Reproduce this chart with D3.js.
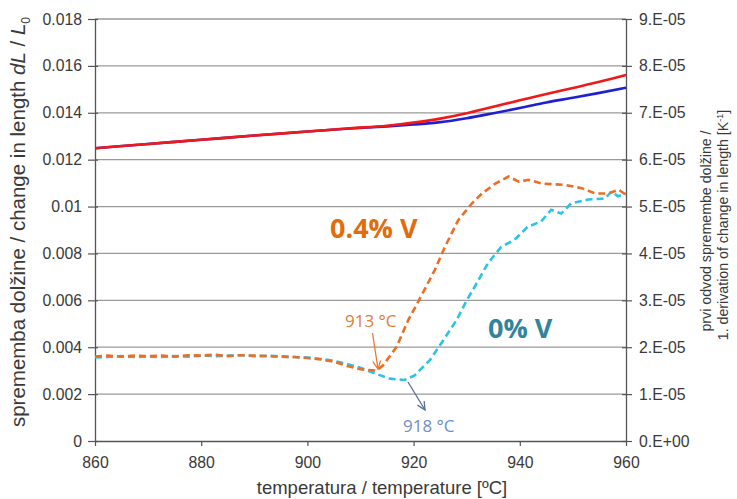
<!DOCTYPE html>
<html>
<head>
<meta charset="utf-8">
<script src="https://cdn.jsdelivr.net/npm/d3@7"></script>
<style>
  html, body { margin: 0; padding: 0; background: #fff; }
  svg { display: block; }
</style>
</head>
<body>
<svg id="chart" width="737" height="499"></svg>
<script>
// ---------- data ----------
const xTicks = [860, 880, 900, 920, 940, 960];
const leftTicks = [0, 0.002, 0.004, 0.006, 0.008, 0.01, 0.012, 0.014, 0.016, 0.018];
const leftTickLabels = ["0", "0.002", "0.004", "0.006", "0.008", "0.01", "0.012", "0.014", "0.016", "0.018"];
const rightTicks = [0, 1e-5, 2e-5, 3e-5, 4e-5, 5e-5, 6e-5, 7e-5, 8e-5, 9e-5];
const rightTickLabels = ["0.E+00", "1.E-05", "2.E-05", "3.E-05", "4.E-05", "5.E-05", "6.E-05", "7.E-05", "8.E-05", "9.E-05"];

// dilatation curves (left axis)
const redT   = [860, 870, 880, 890, 900, 908, 915, 920, 925, 930, 935, 940, 945, 950, 955, 960];
const redV   = [0.01249, 0.01267, 0.01285, 0.01303, 0.0132, 0.01334, 0.01345, 0.01358, 0.01375, 0.01398, 0.01426, 0.01453, 0.0148, 0.01506, 0.01532, 0.01561];
const blueT  = [860, 870, 880, 890, 900, 908, 915, 920, 925, 930, 935, 940, 945, 950, 955, 960];
const blueV  = [0.01249, 0.01267, 0.01285, 0.01303, 0.0132, 0.01333, 0.01342, 0.0135, 0.0136, 0.01377, 0.01398, 0.0142, 0.01444, 0.01464, 0.01485, 0.01507];

// derivative curves (right axis, units of 1e-5 K^-1)
const orangeT = [860, 862.5, 865, 867.5, 870, 872.5, 875, 877.5, 880, 882.5, 885, 887.5, 890, 892.5, 895, 897.5, 900, 902.5, 905, 907.5, 910, 913, 914.3, 916.8, 919, 921, 924, 925.9, 928.4, 931, 932.9, 935.4, 937.9, 939.8, 941.7, 944.2, 948.6, 951.7, 954.2, 956.7, 958.6, 960];
const orangeV = [1.80, 1.82, 1.80, 1.82, 1.81, 1.82, 1.80, 1.83, 1.82, 1.84, 1.81, 1.83, 1.82, 1.81, 1.80, 1.79, 1.77, 1.74, 1.69, 1.60, 1.53, 1.50, 1.62, 2.01, 2.58, 3.00, 3.65, 4.14, 4.71, 5.07, 5.28, 5.49, 5.64, 5.53, 5.57, 5.49, 5.46, 5.39, 5.28, 5.28, 5.36, 5.25];
const cyanT = [860, 862.5, 865, 867.5, 870, 872.5, 875, 877.5, 880, 882.5, 885, 887.5, 890, 892.5, 895, 897.5, 900, 902.5, 905, 907.5, 910, 913, 915.5, 918.3, 920.2, 923.1, 925.6, 928.1, 930, 931.5, 934, 936.5, 939, 941.5, 944, 945.9, 947.8, 949.7, 952.9, 956, 957.3, 958.5, 960];
const cyanV = [1.78, 1.79, 1.81, 1.79, 1.80, 1.79, 1.81, 1.80, 1.82, 1.81, 1.82, 1.83, 1.81, 1.82, 1.80, 1.79, 1.78, 1.75, 1.71, 1.64, 1.56, 1.43, 1.33, 1.30, 1.40, 1.73, 2.15, 2.58, 3.00, 3.29, 3.79, 4.14, 4.29, 4.57, 4.68, 4.93, 4.85, 5.07, 5.15, 5.17, 5.32, 5.22, 5.28];

// annotations
const labels = [
  { text: "0.4% V", x: 330, y: 238, color: "#E26B0A", size: 27, weight: 700 },
  { text: "0% V",   x: 488, y: 338, color: "#31849B", size: 27, weight: 700 },
  { text: "913 °C", x: 345, y: 327, color: "#E37B34", size: 17, weight: 400 },
  { text: "918 °C", x: 403, y: 432, color: "#6E8FCB", size: 17, weight: 400 }
];

// ---------- layout ----------
const svg = d3.select("#chart");
const M = { left: 95, right: 626, top: 19, bottom: 441 };

const x = d3.scaleLinear().domain([860, 960]).range([M.left, M.right]);
const yL = d3.scaleLinear().domain([0, 0.018]).range([M.bottom, M.top]);
const yR = d3.scaleLinear().domain([0, 9e-5]).range([M.bottom, M.top]);

const axisFont = "'Liberation Sans', Arial, sans-serif";
const textColor = "#3a3a3a";

// gridlines
svg.append("g")
  .selectAll("line")
  .data(leftTicks.filter(d => d > 0))
  .join("line")
  .attr("x1", M.left).attr("x2", M.right)
  .attr("y1", d => yL(d)).attr("y2", d => yL(d))
  .attr("stroke", "#9a9a9a").attr("stroke-width", 1.3);

// axes
const leftAxis = d3.axisLeft(yL).tickValues(leftTicks)
  .tickFormat((d, i) => leftTickLabels[i]).tickSizeInner(7).tickSizeOuter(0).tickPadding(6);
const gL = svg.append("g").attr("transform", `translate(${M.left},0)`).call(leftAxis);

const rightAxis = d3.axisRight(yR).tickValues(rightTicks)
  .tickFormat((d, i) => rightTickLabels[i]).tickSizeInner(6).tickSizeOuter(0).tickPadding(7);
const gR = svg.append("g").attr("transform", `translate(${M.right},0)`).call(rightAxis);

const bottomAxis = d3.axisBottom(x).tickValues(xTicks).tickFormat(d3.format("d"))
  .tickSizeInner(5).tickSizeOuter(0).tickPadding(10.5);
const gB = svg.append("g").attr("transform", `translate(0,${M.bottom})`).call(bottomAxis);

[gL, gR, gB].forEach(g => {
  g.select(".domain").attr("stroke", "#555").attr("stroke-width", 1.3);
  g.selectAll(".tick line").attr("stroke", "#555").attr("stroke-width", 1.2);
  g.selectAll(".tick text").attr("fill", textColor)
    .style("font-family", axisFont).style("font-size", "15.8px");
});
// crossing ticks
gL.selectAll(".tick line").attr("x1", 3);
gR.selectAll(".tick line").attr("x1", -4);

// ---------- series ----------
const lineL = d3.line().x(d => x(d[0])).y(d => yL(d[1])).curve(d3.curveMonotoneX);
const lineR = d3.line().x(d => x(d[0])).y(d => yR(d[1] * 1e-5));

const zip = (a, b) => a.map((t, i) => [t, b[i]]);

const plot = svg.append("g");

plot.append("path").datum(zip(blueT, blueV))
  .attr("d", lineL).attr("fill", "none")
  .attr("stroke", "#1F1FD8").attr("stroke-width", 2.6);
plot.append("path").datum(zip(redT, redV))
  .attr("d", lineL).attr("fill", "none")
  .attr("stroke", "#F01818").attr("stroke-width", 2.6);

plot.append("path").datum(zip(cyanT, cyanV))
  .attr("d", lineR).attr("fill", "none")
  .attr("stroke", "#2EC3E6").attr("stroke-width", 2.6)
  .attr("stroke-dasharray", "7,4");
plot.append("path").datum(zip(orangeT, orangeV))
  .attr("d", lineR).attr("fill", "none")
  .attr("stroke", "#EB6E25").attr("stroke-width", 2.6)
  .attr("stroke-dasharray", "7,4");

// ---------- annotations ----------
svg.append("g").selectAll("text").data(labels).join("text")
  .attr("x", d => d.x).attr("y", d => d.y)
  .attr("fill", d => d.color)
  .style("font-family", "'Open Sans', 'Noto Sans', sans-serif")
  .style("font-size", d => d.size + "px")
  .style("font-weight", d => d.weight)
  .text(d => d.text);

// arrows
function arrow(x1, y1, x2, y2, color) {
  const g = svg.append("g").attr("stroke", color).attr("stroke-width", 1.3).attr("fill", "none");
  g.append("line").attr("x1", x1).attr("y1", y1).attr("x2", x2).attr("y2", y2);
  const ang = Math.atan2(y2 - y1, x2 - x1);
  const L = 9, a = 0.45;
  g.append("path").attr("d",
    `M${x2 - L * Math.cos(ang - a)},${y2 - L * Math.sin(ang - a)} L${x2},${y2} L${x2 - L * Math.cos(ang + a)},${y2 - L * Math.sin(ang + a)}`);
}
arrow(372.5, 333, 378, 369, "#E37B34");
arrow(408, 382, 425, 410, "#5A6E99");

// ---------- axis titles ----------
const leftTitle = svg.append("text")
  .attr("transform", `translate(25,222) rotate(-90)`)
  .attr("text-anchor", "middle").attr("fill", textColor)
  .style("font-family", axisFont).style("font-size", "20.5px");
leftTitle.append("tspan").text("sprememba dolžine / change in length ");
leftTitle.append("tspan").style("font-style", "italic").text("dL");
leftTitle.append("tspan").text(" / ");
leftTitle.append("tspan").style("font-style", "italic").text("L");
leftTitle.append("tspan").attr("dy", 5).style("font-size", "12px").text("0");

svg.append("text")
  .attr("transform", `translate(711,231) rotate(-90)`)
  .attr("text-anchor", "middle").attr("fill", textColor)
  .style("font-family", axisFont).style("font-size", "14.2px")
  .text("prvi odvod spremembe dolžine /");
const r2 = svg.append("text")
  .attr("transform", `translate(728,225) rotate(-90)`)
  .attr("text-anchor", "middle").attr("fill", textColor)
  .style("font-family", axisFont).style("font-size", "14.2px");
r2.append("tspan").text("1. derivation of change in length [K");
r2.append("tspan").attr("dy", -5).style("font-size", "9px").text("-1");
r2.append("tspan").attr("dy", 5).text("]");

svg.append("text")
  .attr("x", 382).attr("y", 494)
  .attr("text-anchor", "middle").attr("fill", textColor)
  .style("font-family", axisFont).style("font-size", "18.5px")
  .text("temperatura / temperature [ºC]");
</script>
</body>
</html>
